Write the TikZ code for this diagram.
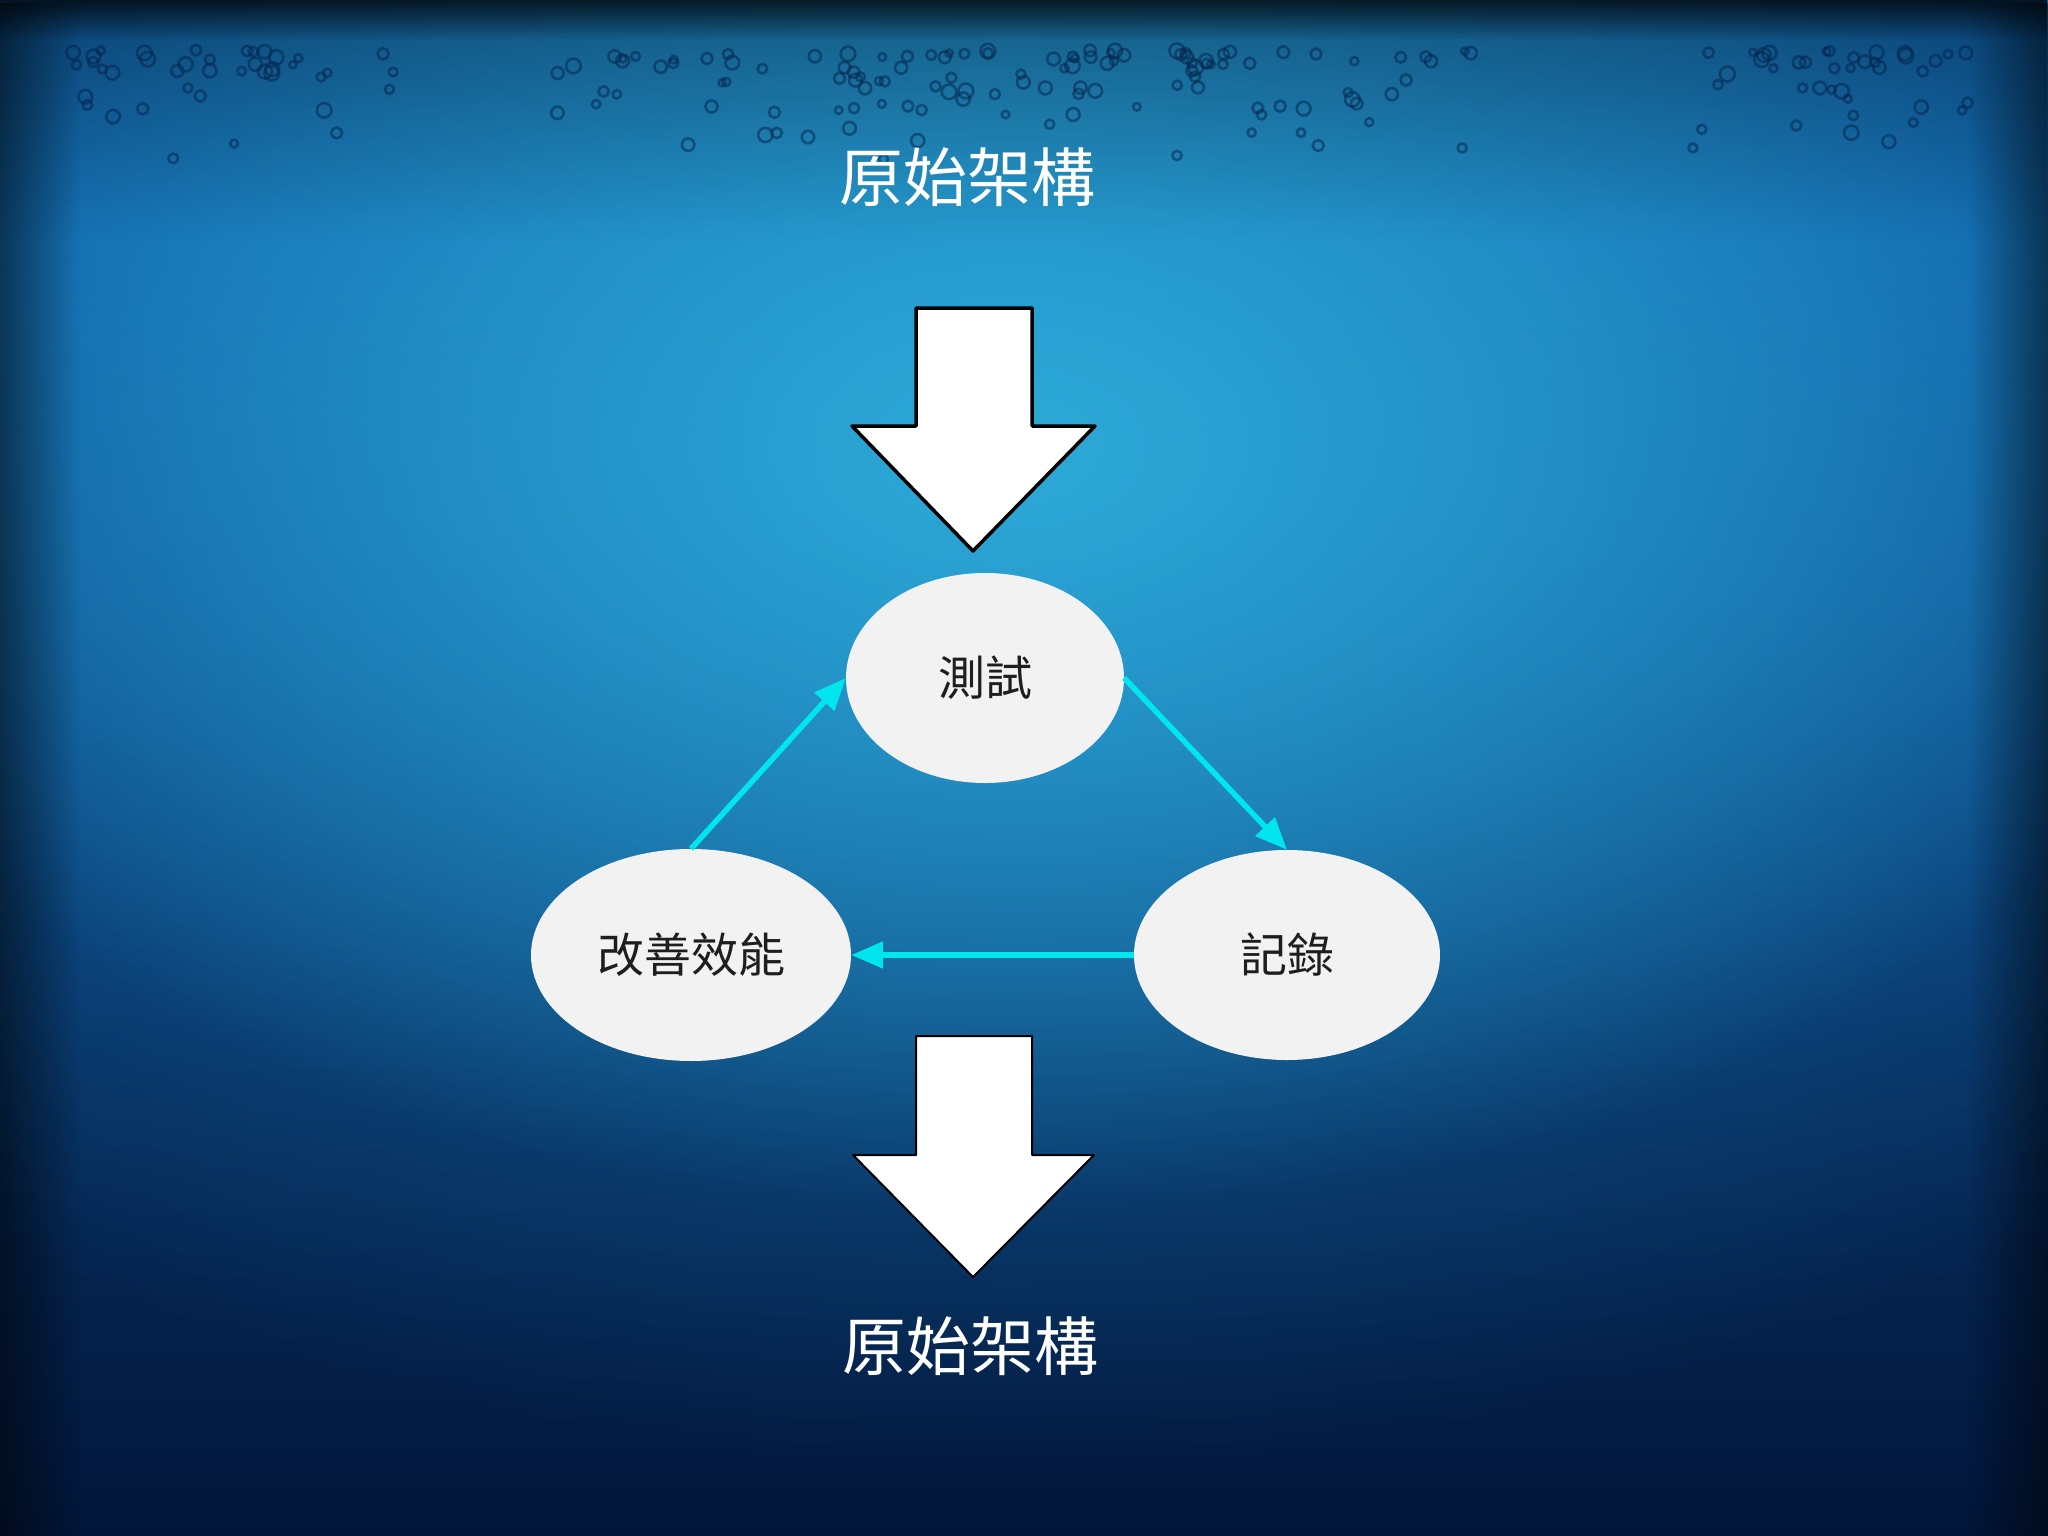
\documentclass[tikz,border=0pt]{standalone}
\usepackage{fontspec}
\newfontfamily\cjk{Noto Sans CJK TC}
\usetikzlibrary{arrows.meta,shapes.geometric,fadings}
\definecolor{bgA}{HTML}{010B26}
\definecolor{bgB}{HTML}{02163A}
\definecolor{bgC}{HTML}{072C5C}
\definecolor{bgD}{HTML}{0B4585}
\definecolor{bgE}{HTML}{0D56A0}
\definecolor{bgF}{HTML}{0D519A}
\definecolor{bgG}{HTML}{0A3A75}
\definecolor{bgH}{HTML}{03142E}
\definecolor{glowA}{HTML}{1A82C2}
\definecolor{glowB}{HTML}{2DAAD8}
\definecolor{ellgray}{HTML}{F2F2F2}
\definecolor{cyanline}{HTML}{00E5EE}
\definecolor{bubblec}{HTML}{03224A}
\definecolor{inktext}{HTML}{1E1E1E}
\pgfdeclareverticalshading{bgv}{100bp}{color(0bp)=(bgA); color(25bp)=(bgB); color(40bp)=(bgC); color(54bp)=(bgD); color(67bp)=(bgE); color(82bp)=(bgF); color(96bp)=(bgG); color(100bp)=(bgH)}
\tikzfading[name=glowfade, inner color=transparent!0, outer color=transparent!100]
\tikzfading[name=fadetoright, left color=transparent!0, right color=transparent!100]
\tikzfading[name=fadetoleft, left color=transparent!100, right color=transparent!0]
\tikzfading[name=fadetobottom, top color=transparent!0, bottom color=transparent!100]
\tikzset{
  title/.style={text=white, font=\cjk\fontsize{64pt}{70pt}\selectfont, inner sep=0pt},
  stage/.style={ellipse, fill=ellgray, draw=none, inner sep=0pt, text=inktext,
    font=\cjk\fontsize{47pt}{50pt}\selectfont},
  flow/.style={draw=cyanline, line width=5.5pt, -{Triangle[length=32pt, width=26pt]}},
  bigarrow/.style={fill=white, draw=black, line width=3.5pt, line join=round},
  bubble/.style={draw=bubblec, line width=2.6pt, opacity=0.5}
}
\begin{document}
\begin{tikzpicture}[x=1pt, y=-1pt]
\useasboundingbox (0,0) rectangle (2048,1536);
% background
\shade[shading=bgv] (0,0) rectangle (2048,1536);
\fill[glowA, opacity=0.8, path fading=glowfade] (1010,420) ellipse [x radius=1650, y radius=1050];
\fill[glowB, path fading=glowfade] (1010,450) ellipse [x radius=1250, y radius=760];
\fill[black, opacity=0.3, path fading=fadetobottom] (0,0) rectangle (2048,240);
\fill[black, opacity=0.5, path fading=fadetoright] (0,0) rectangle (80,1536);
\fill[black, opacity=0.5, path fading=fadetoleft] (1968,0) rectangle (2048,1536);
\fill[black, opacity=0.7, path fading=fadetobottom] (0,0) rectangle (2048,40);
% bubbles texture
\pgfmathsetseed{42}
\foreach \cx/\cw in {230/330, 720/330, 1330/310, 1830/280, 1010/260} {
  \foreach \k in {1,...,40} {
    \pgfmathsetmacro\bx{\cx+(rnd-0.5)*\cw}
    \pgfmathsetmacro\by{50+rnd*rnd*130}
    \pgfmathsetmacro\br{3.5+rnd*4}
    \draw[bubble] (\bx,\by) circle[radius=\br];
  }
}
% titles
\node[title] (src) at (967,177) {原始架構};
\node[title] (dst) at (970,1346) {原始架構};
% big arrows
\draw[bigarrow] (916,308) -- (1032,308) -- (1032,426) -- (1095,426) -- (973,551) -- (852,426) -- (916,426) -- cycle;
\draw[bigarrow, line width=2pt] (916,1036) -- (1032,1036) -- (1032,1155) -- (1094,1155) -- (973,1277) -- (853,1155) -- (916,1155) -- cycle;
% cycle
\node[stage, minimum width=278pt, minimum height=210pt] (test) at (985,678) {測試};
\node[stage, minimum width=306pt, minimum height=210pt] (rec) at (1287,955) {記錄};
\node[stage, minimum width=320pt, minimum height=212pt] (imp) at (691,955) {改善效能};
\draw[flow] (test.east) -- (rec.north);
\draw[flow] (rec.west) -- (imp.east);
\draw[flow] (imp.north) -- (test.west);
\end{tikzpicture}
\end{document}
